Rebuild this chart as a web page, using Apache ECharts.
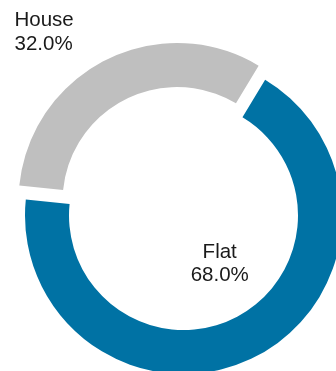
<!DOCTYPE html>
<html>
<head>
<meta charset="utf-8">
<script src="https://cdn.jsdelivr.net/npm/echarts@6/dist/echarts.min.js"></script>
<style>
html,body{margin:0;padding:0;background:#fff;}
#chart{width:336px;height:371px;}
</style>
</head>
<body>
<div id="chart"></div>
<script>
const categories = ['Flat', 'House'];
const values = [68.0, 32.0];
const colors = ['#0072a4', '#bfbfbf'];

const chart = echarts.init(document.getElementById('chart'), null, {renderer: 'canvas'});
// each slice drawn in its own series (exploded pie): centre per slice
const centers = [[183.5, 215.5], [177, 201.5]];
const labelPos = [
  {x: 219.7, y: 240.5, align: 'center'},
  {x: 14.5, y: 8.8, align: 'left'}
];
const series = categories.map((cat, k) => ({
  type: 'pie',
  center: centers[k],
  radius: [114.5, 158.5],
  startAngle: 59,
  clockwise: true,
  avoidLabelOverlap: false,
  emphasis: {disabled: true},
  silent: true,
  label: {
    show: true,
    position: 'inside',
    formatter: p => p.name + '\n' + p.value.toFixed(1) + '%',
    fontFamily: 'Liberation Sans, Arial, sans-serif',
    fontSize: 20.5,
    lineHeight: 23.5,
    color: '#1a1a1a'
  },
  labelLine: {show: false},
  labelLayout: function (params) {
    const p = labelPos[params.dataIndex];
    return {x: p.x, y: p.y, align: p.align, verticalAlign: 'top', hideOverlap: false};
  },
  data: categories.map((c, i) => ({
    name: c,
    value: values[i],
    itemStyle: {color: i === k ? colors[i] : 'rgba(0,0,0,0)'},
    label: {show: i === k}
  }))
}));
chart.setOption({animation: false, series: series});
</script>
</body>
</html>
